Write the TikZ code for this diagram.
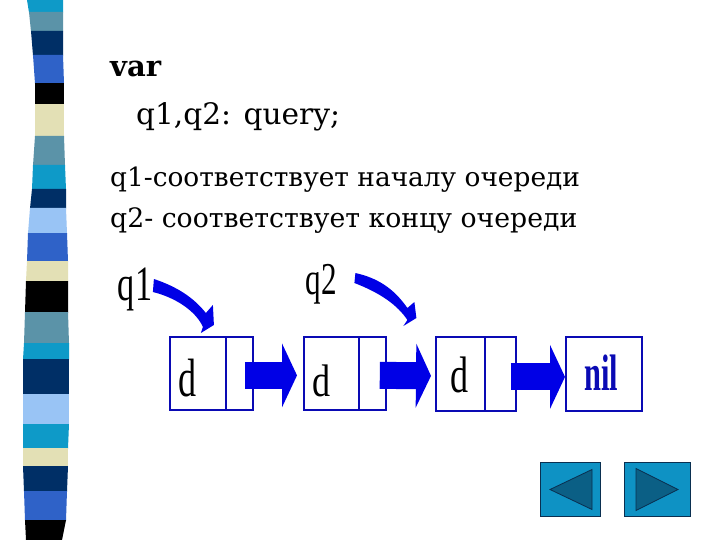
\documentclass[tikz,border=0pt]{standalone}
\usepackage{fontspec}
\setmainfont{DejaVu Serif}
\newfontfamily\thinf{Liberation Serif}
\usetikzlibrary{arrows.meta,calc}
\definecolor{cyanb}{HTML}{0E9AC8}
\definecolor{greyb}{HTML}{5B93A8}
\definecolor{navyb}{HTML}{002F66}
\definecolor{blueb}{HTML}{2F62C8}
\definecolor{lightb}{HTML}{99C4F5}
\definecolor{beigeb}{HTML}{E3E0B5}
\definecolor{arrowb}{HTML}{0000E6}
\definecolor{boxb}{HTML}{0A0AB4}
\definecolor{btnb}{HTML}{0E92C4}
\definecolor{btnt}{HTML}{0B5F85}
\definecolor{btnl}{HTML}{0A2F50}
\tikzset{
  bodytext/.style={anchor=base west,inner sep=0pt,text=black},
  handlabel/.style={anchor=center,inner sep=0pt,font=\thinf\fontsize{38}{38}\selectfont},
  listbox/.style={draw=boxb,line width=1.8pt,fill=white,minimum height=73pt,inner sep=0pt,anchor=north west},
  divider/.style={draw=boxb,line width=1.3pt},
  blockarrow/.style={draw=arrowb,line width=27pt,-{Triangle[length=15pt,width=64pt,line width=0pt]}},
  curvearrow/.style={fill=arrowb},
  navbtn/.style={draw=btnl,line width=1pt,fill=btnb,inner sep=0pt,anchor=north west},
  navtri/.style={draw=btnl,line width=0.8pt,fill=btnt,line join=miter}
}
\newcommand{\stripe}[7]{\fill[#1] (#2,#4) -- (#3,#4) -- (#7,#5) -- (#6,#5) -- cycle;}
\begin{document}
\begin{tikzpicture}[x=1pt,y=-1pt]
\useasboundingbox (0,0) rectangle (720,540);
\fill[white] (0,0) rectangle (720,540);
% left band
\stripe{cyanb}{27}{63}{0}{12.5}{29}{63}
\stripe{greyb}{29}{63}{12}{31.5}{31}{63}
\stripe{navyb}{31}{63}{31}{55.5}{33}{63}
\stripe{blueb}{33}{63}{55}{83.5}{35}{64}
\stripe{black}{35}{64}{83}{104.5}{35}{64}
\stripe{beigeb}{35}{64}{104}{136.5}{35}{64}
\stripe{greyb}{35}{64}{136}{165.5}{33}{65}
\stripe{cyanb}{33}{65}{165}{189.5}{32}{66}
\stripe{navyb}{32}{66}{189}{208.5}{30}{66}
\stripe{lightb}{30}{66}{208}{233.5}{28}{67}
\stripe{blueb}{28}{67}{233}{261.5}{27}{68}
\stripe{beigeb}{27}{68}{261}{281.5}{26}{68}
\stripe{black}{26}{68}{281}{312.5}{25}{68}
\stripe{greyb}{25}{68}{312}{343.5}{24}{69}
\stripe{cyanb}{24}{69}{343}{359.5}{23}{69}
\stripe{navyb}{23}{69}{359}{394.5}{23}{69}
\stripe{lightb}{23}{69}{394}{424.5}{23}{69}
\stripe{cyanb}{23}{69}{424}{448.5}{23}{68}
\stripe{beigeb}{23}{68}{448}{466.5}{23}{68}
\stripe{navyb}{23}{68}{466}{491.5}{24}{67}
\stripe{blueb}{24}{67}{491}{520.5}{25}{66}
\stripe{black}{25}{66}{520}{540}{26}{62}
% text
\node[bodytext,font=\bfseries\fontsize{29}{29}\selectfont] (tvar) at (110,77) {var};
\node[bodytext,font=\fontsize{29.6}{30}\selectfont] (tdecl) at (136,125) {q1,q2: query;};
\node[bodytext,font=\fontsize{26.4}{27}\selectfont] (tline1) at (110,187) {q1-соответствует началу очереди};
\node[bodytext,font=\fontsize{26.7}{27}\selectfont] (tline2) at (110,227) {q2- соответствует концу очереди};
% list boxes
\node[listbox,minimum width=83pt] (b1) at (169,336) {};
\node[listbox,minimum width=82pt] (b2) at (303,336) {};
\node[listbox,minimum width=80pt,minimum height=74pt] (b3) at (435,336) {};
\node[listbox,minimum width=76pt,minimum height=74pt] (b4) at (565,336) {};
\path (b1.north west) ++(57,0) coordinate (d1a) (b1.south west) ++(57,0) coordinate (d1b);
\draw[divider] (d1a) -- (d1b);
\path (b2.north west) ++(56,0) coordinate (d2a) (b2.south west) ++(56,0) coordinate (d2b);
\draw[divider] (d2a) -- (d2b);
\path (b3.north west) ++(50,0) coordinate (d3a) (b3.south west) ++(50,0) coordinate (d3b);
\draw[divider] (d3a) -- (d3b);
% cell letters
\node[handlabel] (l1) at (188,378) {\scalebox{0.95}[1.42]{d}};
\node[handlabel] (l2) at (322,381) {\scalebox{0.95}[1.2]{d}};
\node[handlabel] (l3) at (460,375) {\scalebox{0.95}[1.35]{d}};
\node[handlabel,text=boxb] (l4) at (601,373) {\scalebox{0.8}[1.35]{\bfseries nil}};
% block arrows
\draw[blockarrow,shorten <=-9pt,shorten >=6pt] ($(b1.east)+(0,2)$) -- ($(b2.west)+(0,2)$);
\draw[blockarrow,shorten <=-7pt,shorten >=4pt] ($(b2.east)+(0,2)$) -- ($(b3.west)+(0,2)$);
\draw[blockarrow,shorten <=-6pt] ($(b3.east)+(0,3)$) -- ($(b4.west)+(0,3)$);
% pointer labels
\node[handlabel] (q1) at (135,289) {\scalebox{0.9}[1.3]{q1}};
\node[handlabel] (q2) at (321,284) {\scalebox{0.82}[1.2]{q2}};
\coordinate (t1) at ($(b1.north)+(-10.5,-3)$);
\coordinate (t2) at ($(b2.north)+(58.5,-10)$);
\begin{scope}[shift={(t1)}]
\path[curvearrow] (-47,-54) .. controls (-23,-46) and (-7,-35) .. (5,-20) -- (12,-28) -- (13,-8) -- (0,0) -- (2,-6) .. controls (-3,-18) and (-20,-34) .. (-48,-41) -- cycle;
\end{scope}
\begin{scope}[shift={(t2)}]
\path[curvearrow] (-48,-53) .. controls (-26,-48) and (-10,-38) .. (4,-18) -- (11,-24) -- (13,-8) -- (0,0) -- (4,-6) .. controls (-6,-21) and (-23,-33) .. (-49,-43) -- cycle;
\end{scope}
% nav buttons
\node[navbtn,minimum width=60pt,minimum height=54pt] (prev) at (540,462) {};
\node[navbtn,minimum width=66pt,minimum height=54pt] (next) at (624,462) {};
\draw[navtri] ($(prev.west)+(10,0)$) -- ($(prev.east)+(-9,-20)$) -- ($(prev.east)+(-9,20)$) -- cycle;
\draw[navtri] ($(next.east)+(-13,0)$) -- ($(next.west)+(12,-21)$) -- ($(next.west)+(12,21)$) -- cycle;
\end{tikzpicture}
\end{document}
